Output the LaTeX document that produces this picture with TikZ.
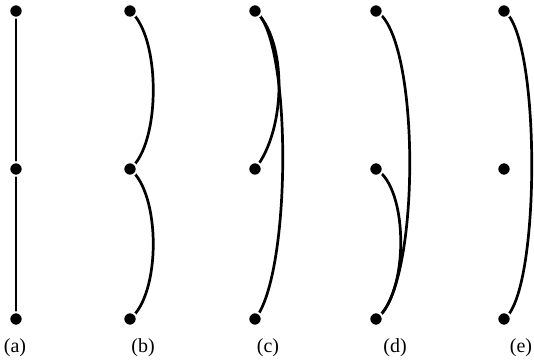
\documentclass[tikz,border=0pt]{standalone}
\usepackage{fontspec}
\setmainfont{Liberation Serif}
\begin{document}
\begin{tikzpicture}[x=1pt,y=-1pt,
  vtx/.style={circle,fill=black,draw=white,line width=2pt,inner sep=0pt,minimum size=13.5pt},
  edge/.style={line width=2.7pt,black},
  lab/.style={font=\fontsize{20}{20}\selectfont,inner sep=0pt}]
\useasboundingbox (0,0) rectangle (534,363);
% positions
\foreach \c/\x in {a/16,b/130,c/255,d/376,e/504}{
  \coordinate (\c1) at (\x,11);
  \coordinate (\c2) at (\x,169);
  \coordinate (\c3) at (\x,319);
}
% edges (yshift is in canvas direction: negative = downward)
\draw[edge] (a1) -- (a2);
\draw[edge] (a2) -- (a3);
\draw[edge] (b1) .. controls ([xshift=31pt,yshift=-25pt]b1) and ([xshift=31pt,yshift=25pt]b2) .. (b2);
\draw[edge] (b2) .. controls ([xshift=31pt,yshift=-25pt]b2) and ([xshift=31pt,yshift=25pt]b3) .. (b3);
\draw[edge] (c1) .. controls ([xshift=32pt,yshift=-28pt]c1) and ([xshift=32pt,yshift=40pt]c2) .. (c2);
\draw[edge] (c1) .. controls ([xshift=37pt,yshift=-25pt]c1) and ([xshift=37pt,yshift=45pt]c3) .. (c3);
\draw[edge] (d1) .. controls ([xshift=45pt,yshift=-25pt]d1) and ([xshift=45pt,yshift=30pt]d3) .. (d3);
\draw[edge] (d2) .. controls ([xshift=33pt,yshift=-20pt]d2) and ([xshift=33pt,yshift=25pt]d3) .. (d3);
\draw[edge] (e1) .. controls ([xshift=37pt,yshift=-25pt]e1) and ([xshift=37pt,yshift=25pt]e3) .. (e3);
% vertices
\foreach \c in {a,b,c,d,e}{
  \foreach \i in {1,2,3}{
    \node[vtx] (n\c\i) at (\c\i) {};
  }
}
% labels
\node[lab] (la) at (15,348) {(a)};
\node[lab] (lb) at (143,348) {(b)};
\node[lab] (lc) at (268,348) {(c)};
\node[lab] (ld) at (395,348) {(d)};
\node[lab] (le) at (521,348) {(e)};
\end{tikzpicture}
\end{document}
